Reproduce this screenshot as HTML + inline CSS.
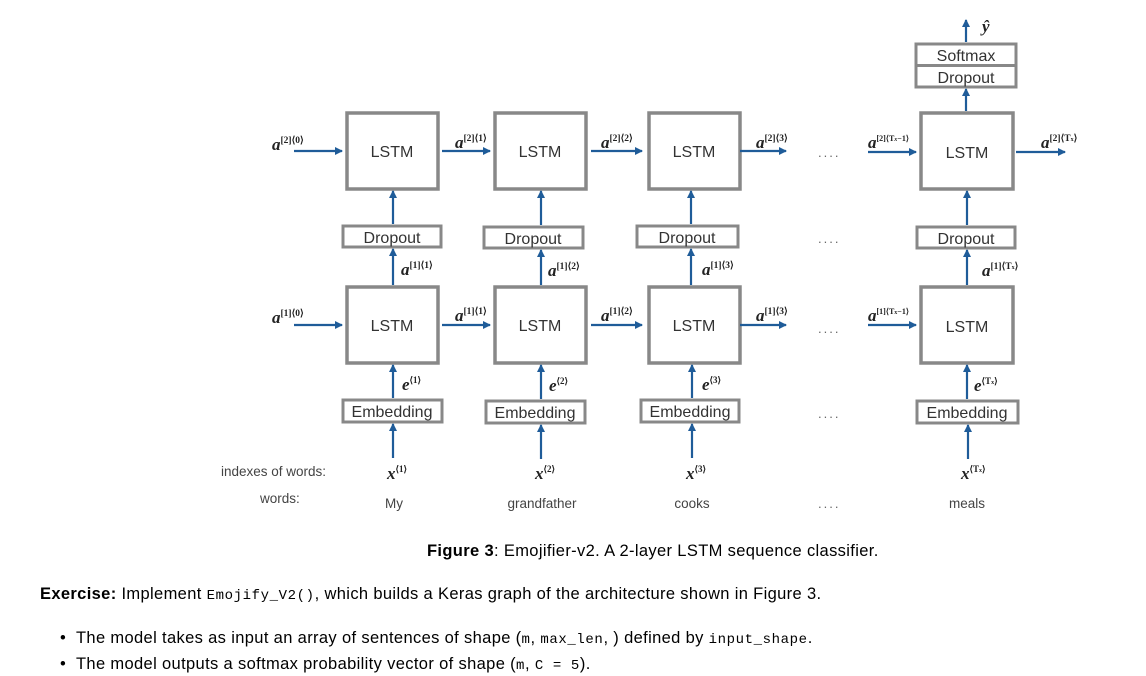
<!DOCTYPE html>
<html><head><meta charset="utf-8"><style>
html,body{margin:0;padding:0;background:#fff;}
body{width:1146px;height:676px;position:relative;overflow:hidden;font-family:"Liberation Sans",Arial,sans-serif;color:#000;}
svg{position:absolute;left:0;top:0;}
.t{position:absolute;font-size:16.5px;letter-spacing:0.35px;white-space:nowrap;}
code{font-family:"Liberation Mono",monospace;font-size:14px;letter-spacing:0.6px;}
</style></head><body>
<svg width="1146" height="540" viewBox="0 0 1146 540">
<defs><marker id="ah" markerWidth="8" markerHeight="8" refX="7" refY="4" orient="auto" markerUnits="userSpaceOnUse"><path d="M0,0 L8,4 L0,8 z" fill="#1f5c99"/></marker></defs>
<g fill="none" stroke="#888" stroke-width="3.5">
<rect x="347" y="113" width="91" height="76"/><rect x="495" y="113" width="91" height="76"/><rect x="649" y="113" width="91" height="76"/><rect x="921" y="113" width="92" height="76"/>
<rect x="347" y="287" width="91" height="76"/><rect x="495" y="287" width="91" height="76"/><rect x="649" y="287" width="91" height="76"/><rect x="921" y="287" width="92" height="76"/>
</g>
<g fill="none" stroke="#888" stroke-width="3">
<rect x="343" y="226" width="98" height="21"/><rect x="484" y="227" width="99" height="21"/><rect x="637" y="226" width="101" height="21"/><rect x="917" y="227" width="98" height="21"/>
<rect x="343" y="400" width="99" height="22"/><rect x="486" y="401" width="99" height="22"/><rect x="641" y="400" width="98" height="22"/><rect x="917" y="401" width="101" height="22"/>
<rect x="916" y="44" width="100" height="43"/><line x1="916" y1="65.5" x2="1016" y2="65.5"/>
</g>
<g stroke="#1f5c99" stroke-width="2.2" marker-end="url(#ah)">
<line x1="294" y1="151" x2="342" y2="151"/><line x1="442" y1="151" x2="490" y2="151"/><line x1="591" y1="151" x2="642" y2="151"/><line x1="740" y1="151" x2="786" y2="151"/><line x1="868" y1="152" x2="916" y2="152"/><line x1="1016" y1="152" x2="1065" y2="152"/>
<line x1="294" y1="325" x2="342" y2="325"/><line x1="442" y1="325" x2="490" y2="325"/><line x1="591" y1="325" x2="642" y2="325"/><line x1="740" y1="325" x2="786" y2="325"/><line x1="868" y1="325" x2="916" y2="325"/>
<line x1="393" y1="224" x2="393" y2="191"/><line x1="541" y1="225" x2="541" y2="191"/><line x1="691" y1="224" x2="691" y2="191"/><line x1="967" y1="225" x2="967" y2="191"/>
<line x1="393" y1="285" x2="393" y2="249"/><line x1="541" y1="285" x2="541" y2="250"/><line x1="691" y1="285" x2="691" y2="249"/><line x1="967" y1="285" x2="967" y2="250"/>
<line x1="393" y1="398" x2="393" y2="365"/><line x1="541" y1="399" x2="541" y2="365"/><line x1="692" y1="398" x2="692" y2="365"/><line x1="967" y1="399" x2="967" y2="365"/>
<line x1="393" y1="458" x2="393" y2="424"/><line x1="541" y1="459" x2="541" y2="425"/><line x1="692" y1="458" x2="692" y2="424"/><line x1="968" y1="459" x2="968" y2="425"/>
<line x1="966" y1="111" x2="966" y2="89"/><line x1="966" y1="42" x2="966" y2="20"/>
</g>
<g font-family="Liberation Sans,Arial,sans-serif" font-size="16" fill="#333" text-anchor="middle">
<text x="392" y="157">LSTM</text><text x="540" y="157">LSTM</text><text x="694" y="157">LSTM</text><text x="967" y="158">LSTM</text>
<text x="392" y="331">LSTM</text><text x="540" y="331">LSTM</text><text x="694" y="331">LSTM</text><text x="967" y="332">LSTM</text>
<text x="392" y="243">Dropout</text><text x="533" y="244">Dropout</text><text x="687" y="243">Dropout</text><text x="966" y="244">Dropout</text>
<text x="392" y="417">Embedding</text><text x="535" y="418">Embedding</text><text x="690" y="417">Embedding</text><text x="967" y="418">Embedding</text>
<text x="966" y="61">Softmax</text><text x="966" y="83">Dropout</text>
</g>
<g font-family="Liberation Sans,Arial,sans-serif" font-size="13.5" fill="#444">
<text x="221" y="476">indexes of words:</text><text x="260" y="503">words:</text>
<text x="394" y="508" text-anchor="middle">My</text><text x="542" y="508" text-anchor="middle">grandfather</text><text x="692" y="508" text-anchor="middle">cooks</text><text x="967" y="508" text-anchor="middle">meals</text>
</g>
<g font-family="Liberation Sans" font-size="13" fill="#666" letter-spacing="2">
<text x="818" y="157">....</text><text x="818" y="243">....</text><text x="818" y="333">....</text><text x="818" y="418">....</text><text x="818" y="508">....</text>
</g>
<g font-family="Liberation Serif,serif" font-weight="bold" font-style="italic" fill="#222" font-size="17">
<text x="272" y="150">a<tspan font-size="9.5" dy="-7" font-style="normal">[2]⟨0⟩</tspan></text>
<text x="455" y="148">a<tspan font-size="9.5" dy="-7" font-style="normal">[2]⟨1⟩</tspan></text>
<text x="601" y="148">a<tspan font-size="9.5" dy="-7" font-style="normal">[2]⟨2⟩</tspan></text>
<text x="756" y="148">a<tspan font-size="9.5" dy="-7" font-style="normal">[2]⟨3⟩</tspan></text>
<text x="868" y="148">a<tspan font-size="8" dy="-7" font-style="normal">[2]⟨T<tspan font-style="italic" font-size="6">x</tspan>−1⟩</tspan></text>
<text x="1041" y="148">a<tspan font-size="9.5" dy="-7" font-style="normal">[2]⟨T<tspan font-size="6">x</tspan>⟩</tspan></text>
<text x="272" y="323">a<tspan font-size="9.5" dy="-7" font-style="normal">[1]⟨0⟩</tspan></text>
<text x="455" y="321">a<tspan font-size="9.5" dy="-7" font-style="normal">[1]⟨1⟩</tspan></text>
<text x="601" y="321">a<tspan font-size="9.5" dy="-7" font-style="normal">[1]⟨2⟩</tspan></text>
<text x="756" y="321">a<tspan font-size="9.5" dy="-7" font-style="normal">[1]⟨3⟩</tspan></text>
<text x="868" y="321">a<tspan font-size="8" dy="-7" font-style="normal">[1]⟨T<tspan font-size="6">x</tspan>−1⟩</tspan></text>
<text x="401" y="275">a<tspan font-size="9.5" dy="-7" font-style="normal">[1]⟨1⟩</tspan></text>
<text x="548" y="276">a<tspan font-size="9.5" dy="-7" font-style="normal">[1]⟨2⟩</tspan></text>
<text x="702" y="275">a<tspan font-size="9.5" dy="-7" font-style="normal">[1]⟨3⟩</tspan></text>
<text x="982" y="276">a<tspan font-size="9.5" dy="-7" font-style="normal">[1]⟨T<tspan font-size="6">x</tspan>⟩</tspan></text>
<text x="402" y="390">e<tspan font-size="9" dy="-7" font-style="normal">⟨1⟩</tspan></text>
<text x="549" y="391">e<tspan font-size="9" dy="-7" font-style="normal">⟨2⟩</tspan></text>
<text x="702" y="390">e<tspan font-size="9" dy="-7" font-style="normal">⟨3⟩</tspan></text>
<text x="974" y="391">e<tspan font-size="9" dy="-7" font-style="normal">⟨T<tspan font-size="6">x</tspan>⟩</tspan></text>
<text x="387" y="479">x<tspan font-size="9" dy="-7" font-style="normal">⟨1⟩</tspan></text>
<text x="535" y="479">x<tspan font-size="9" dy="-7" font-style="normal">⟨2⟩</tspan></text>
<text x="686" y="479">x<tspan font-size="9" dy="-7" font-style="normal">⟨3⟩</tspan></text>
<text x="961" y="479">x<tspan font-size="9" dy="-7" font-style="normal">⟨T<tspan font-size="6">x</tspan>⟩</tspan></text>
<text x="982" y="32">ŷ</text>
</g>
</svg>
<div class="t" style="left:427px;top:542px;"><b>Figure 3</b>: Emojifier-v2. A 2-layer LSTM sequence classifier.</div>
<div class="t" style="left:40px;top:585px;"><b>Exercise:</b> Implement <code>Emojify_V2()</code>, which builds a Keras graph of the architecture shown in Figure 3.</div>
<div class="t" style="left:60px;top:629px;">•&nbsp;&nbsp;The model takes as input an array of sentences of shape (<code>m</code>, <code>max_len</code>, ) defined by <code>input_shape</code>.</div>
<div class="t" style="left:60px;top:655px;">•&nbsp;&nbsp;The model outputs a softmax probability vector of shape (<code>m</code>, <code>C = 5</code>).</div>
</body></html>
